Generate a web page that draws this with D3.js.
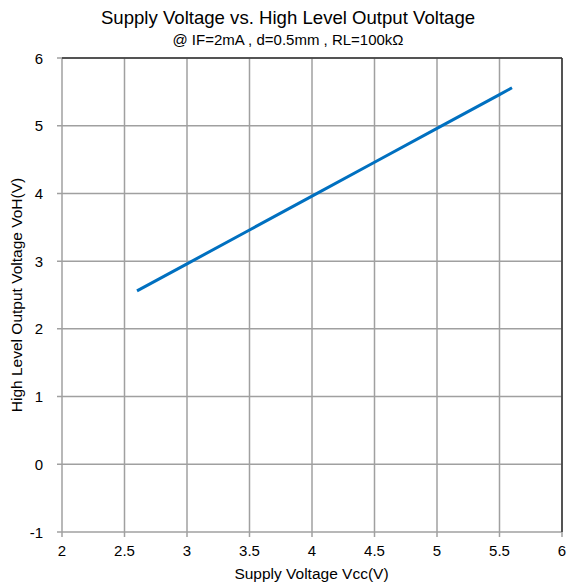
<!DOCTYPE html>
<html><head><meta charset="utf-8">
<script src="https://cdn.jsdelivr.net/npm/d3@7"></script>
<style>body{margin:0;background:#fff}svg{display:block;font-family:"Liberation Sans",Arial,sans-serif}</style>
</head><body>
<script>
const vcc = [2.6, 3.0, 3.5, 4.0, 4.5, 5.0, 5.5, 5.6];
const voh = [2.56, 2.96, 3.46, 3.96, 4.46, 4.96, 5.46, 5.56];
const xTicks = [2, 2.5, 3, 3.5, 4, 4.5, 5, 5.5, 6];
const yTicks = [-1, 0, 1, 2, 3, 4, 5, 6];
const title = "Supply Voltage vs. High Level Output Voltage";
const subtitle = "@ IF=2mA , d=0.5mm , RL=100kΩ";
const xTitle = "Supply Voltage Vcc(V)";
const yTitle = "High Level Output Voltage VoH(V)";

const W = 570, H = 588;
const m = {l: 62, r: 8, t: 58, b: 56};
const svg = d3.select("body").append("svg").attr("width", W).attr("height", H);
const x = d3.scaleLinear().domain([2, 6]).range([m.l, W - m.r]);
const y = d3.scaleLinear().domain([-1, 6]).range([H - m.b, m.t]);

const grid = svg.append("g").attr("stroke", "#a0a0a0").attr("stroke-width", 1.5);
xTicks.forEach(t => grid.append("line").attr("x1", x(t)).attr("x2", x(t)).attr("y1", y(6)).attr("y2", y(-1) + 5));
yTicks.forEach(t => grid.append("line").attr("x1", x(2) - 5).attr("x2", x(6)).attr("y1", y(t)).attr("y2", y(t)));
svg.append("line").attr("x1", x(2)).attr("x2", x(6)).attr("y1", y(6)).attr("y2", y(6)).attr("stroke", "#333").attr("stroke-width", 1.5);
svg.append("line").attr("x1", x(6)).attr("x2", x(6)).attr("y1", y(6)).attr("y2", y(-1)).attr("stroke", "#333").attr("stroke-width", 1.5);

svg.append("g").selectAll("text").data(xTicks).join("text")
  .attr("x", d => x(d)).attr("y", y(-1) + 24).attr("text-anchor", "middle")
  .attr("font-size", 15).attr("fill", "#000").text(d => d);
svg.append("g").selectAll("text").data(yTicks).join("text")
  .attr("x", x(2) - 19).attr("y", d => y(d) + 5.5).attr("text-anchor", "end")
  .attr("font-size", 15).attr("fill", "#000").text(d => d);

const line = d3.line().x((d, i) => x(vcc[i])).y(d => y(d));
svg.append("path").datum(voh).attr("d", line).attr("fill", "none")
  .attr("stroke", "#0070C0").attr("stroke-width", 3);

svg.append("text").attr("x", 288).attr("y", 24).attr("text-anchor", "middle").attr("font-size", 18.6).text(title);
svg.append("text").attr("x", 288).attr("y", 45).attr("text-anchor", "middle").attr("font-size", 15).text(subtitle);
svg.append("text").attr("x", 311.5).attr("y", 579).attr("text-anchor", "middle").attr("font-size", 15.5).text(xTitle);
svg.append("text").attr("transform", `translate(22,${(y(6)+y(-1))/2}) rotate(-90)`).attr("text-anchor", "middle").attr("font-size", 15.5).text(yTitle);
</script>
</body></html>
